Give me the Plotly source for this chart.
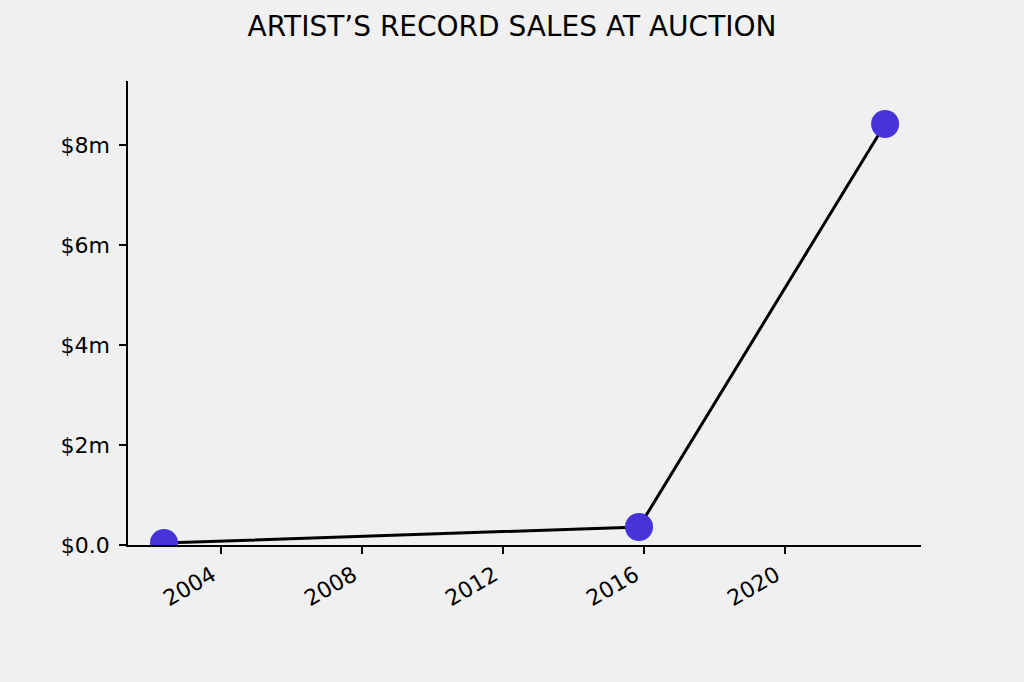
import plotly.graph_objects as go

sale_dates = ["2002-05-20", "2015-11-10", "2022-11-03"]
sale_values_m = [0.04, 0.36, 8.42]

y_tick_vals = [0, 2, 4, 6, 8]
y_tick_text = ["$0.0", "$2m", "$4m", "$6m", "$8m"]
x_tick_vals = ["2004-01-01", "2008-01-01", "2012-01-01", "2016-01-01", "2020-01-01"]
x_tick_text = ["2004", "2008", "2012", "2016", "2020"]

fig = go.Figure()
fig.add_trace(go.Scatter(
    x=sale_dates, y=sale_values_m, mode="lines",
    line=dict(color="black", width=3), hoverinfo="skip", showlegend=False,
))
fig.add_trace(go.Scatter(
    x=sale_dates, y=sale_values_m, mode="markers",
    marker=dict(color="#4833DB", size=28, line=dict(width=0)),
    showlegend=False, cliponaxis=True,
))

fig.update_layout(
    width=1024, height=682,
    paper_bgcolor="#f0f0f0", plot_bgcolor="#f0f0f0",
    margin=dict(l=128, r=103, t=81, b=137),
    font=dict(family="DejaVu Sans", color="black", size=22),
    title=dict(text="ARTIST\u2019S RECORD SALES AT AUCTION", x=0.5, xanchor="center",
               y=1 - 26 / 682, yanchor="middle", font=dict(size=28, family="DejaVu Sans")),
    xaxis=dict(
        type="date", range=["2001-05-12", "2023-11-10"],
        tickvals=x_tick_vals, ticktext=x_tick_text, tickangle=-30,
        showgrid=False, zeroline=False, showline=True, linecolor="black", linewidth=1.5,
        ticks="outside", ticklen=7, tickwidth=1.5, tickcolor="black",
        tickfont=dict(size=22), ticklabelshift=-9,
    ),
    yaxis=dict(
        range=[0, 9.28], tickvals=y_tick_vals, ticktext=y_tick_text,
        showgrid=False, zeroline=False, showline=True, linecolor="black", linewidth=1.5,
        ticks="outside", ticklen=7, tickwidth=1.5, tickcolor="black",
        tickfont=dict(size=22), ticklabelstandoff=5,
    ),
)

fig.write_html("out.html", config={"displayModeBar": False},
               post_script="document.body.style.margin='0';document.body.style.background='#f0f0f0';")
